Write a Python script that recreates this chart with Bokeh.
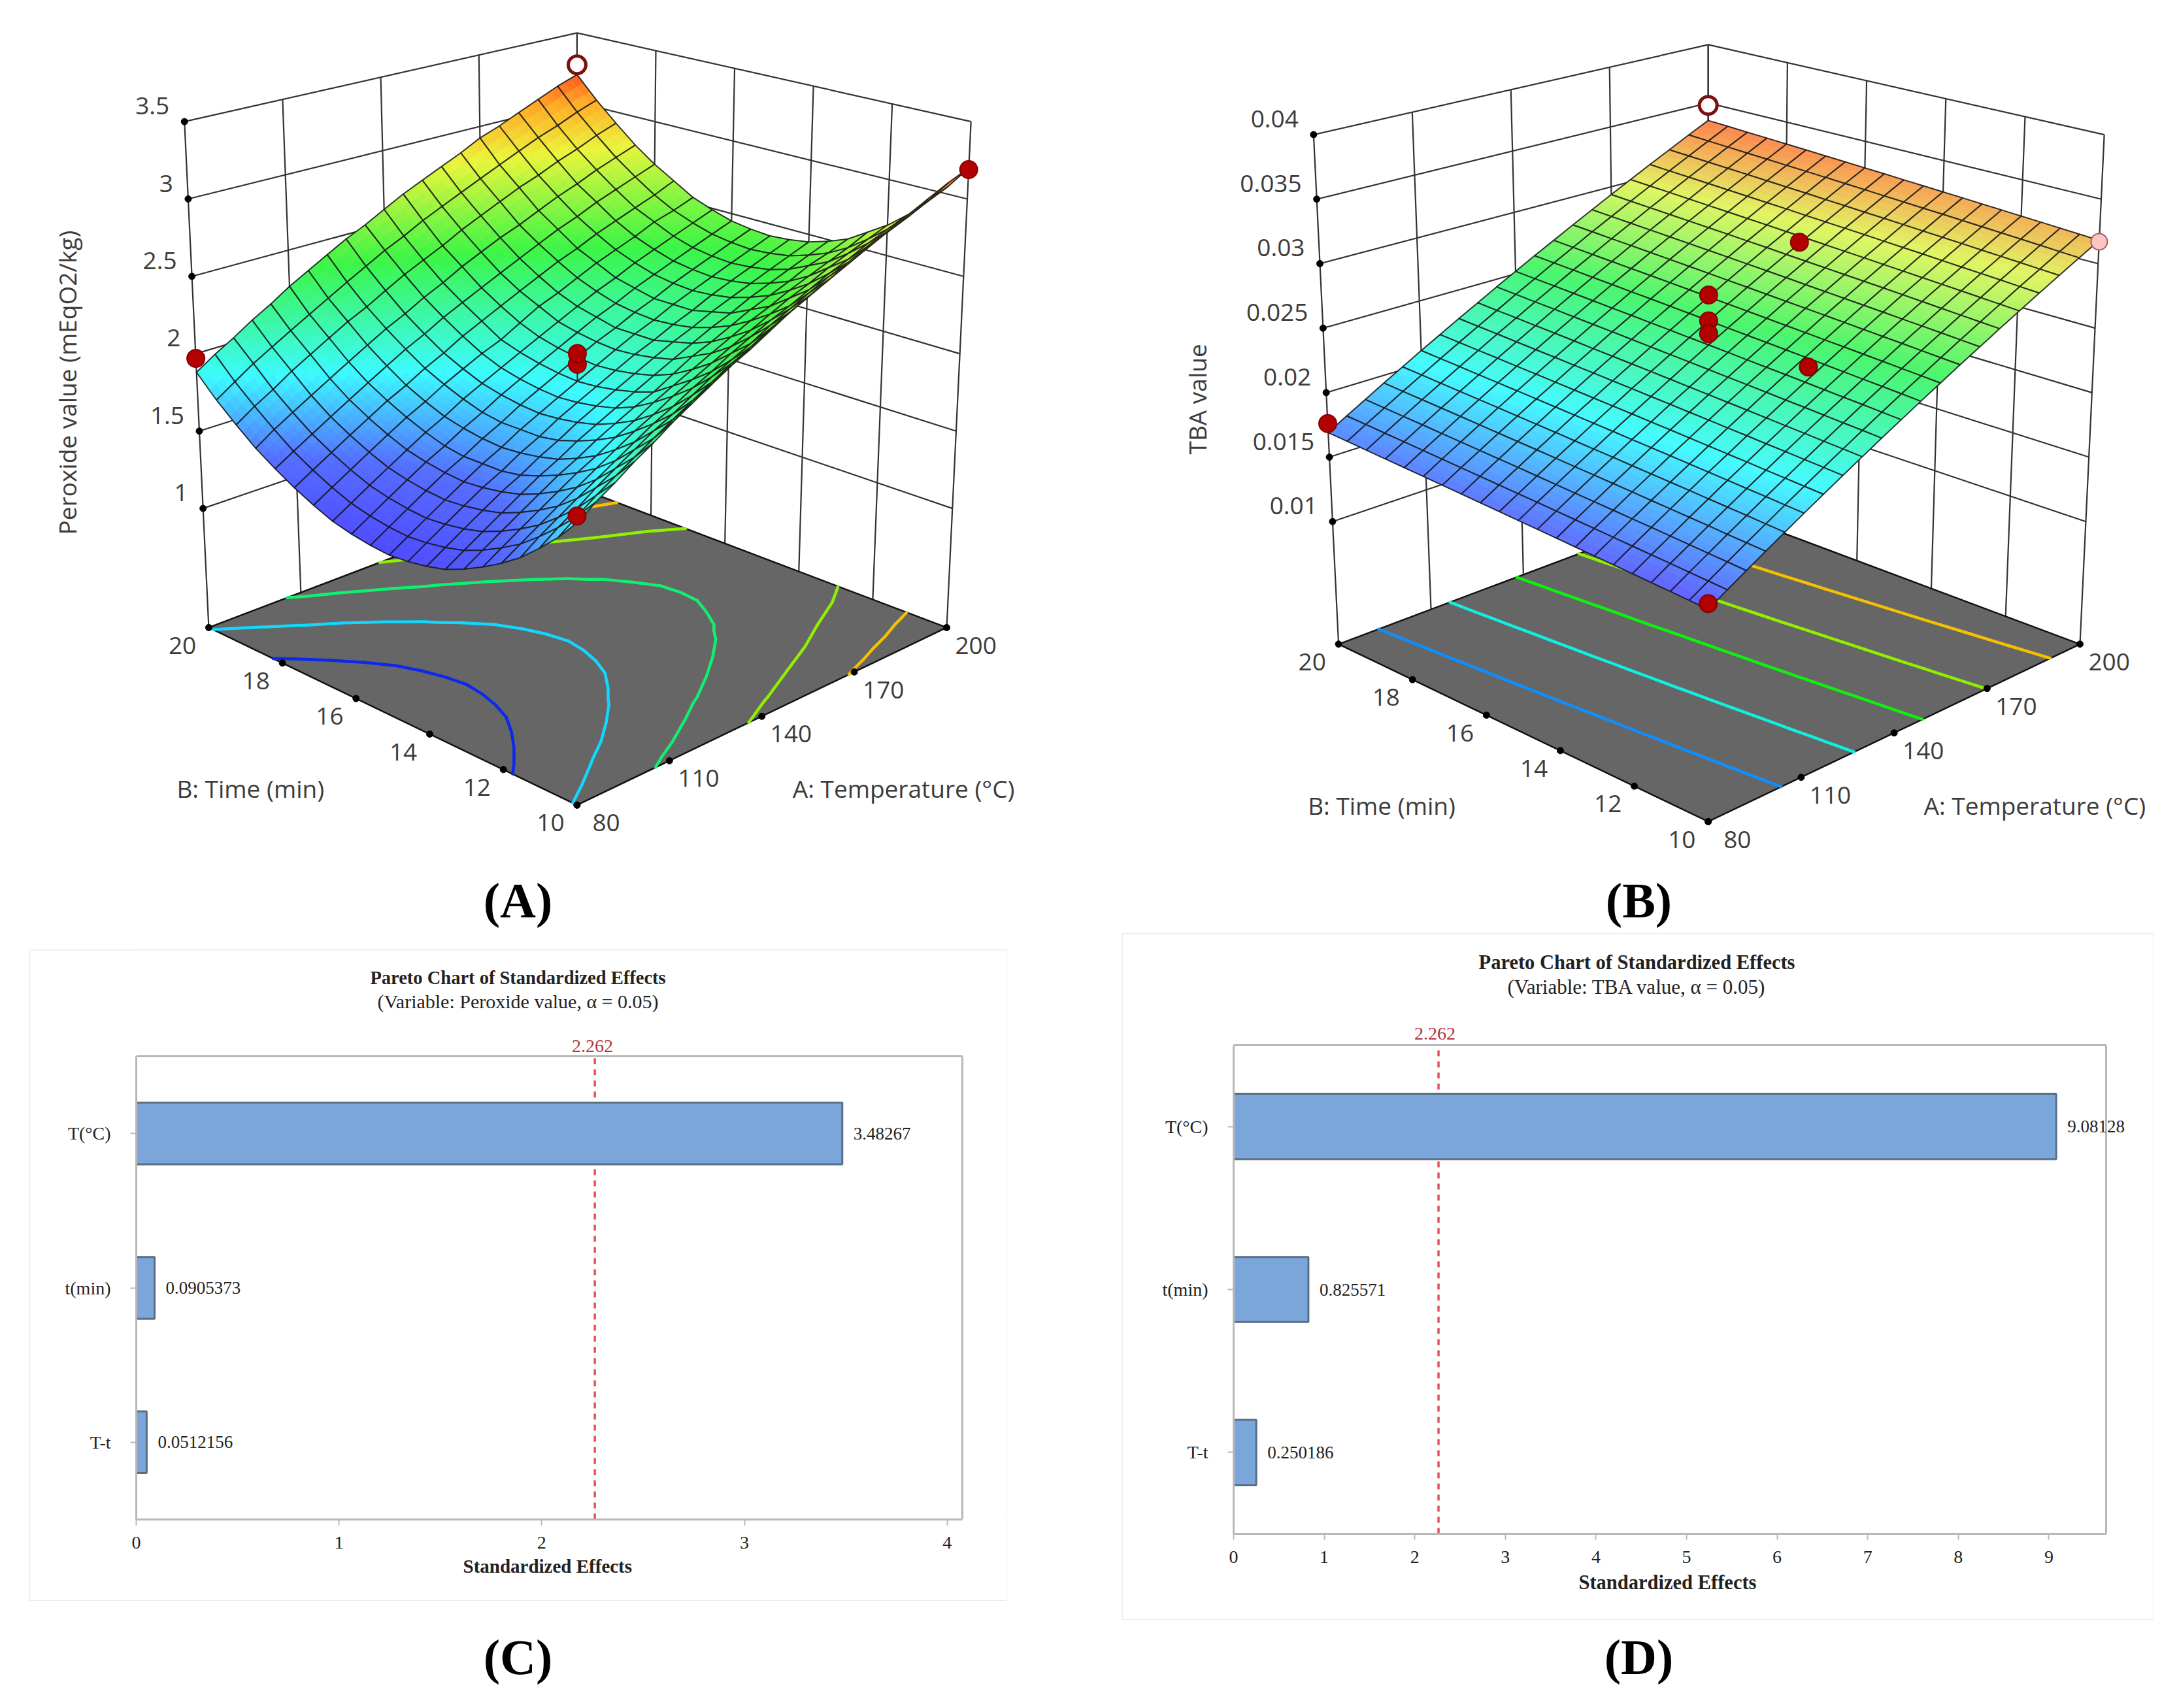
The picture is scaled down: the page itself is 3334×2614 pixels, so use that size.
import numpy as np
from bokeh.core.properties import value
from bokeh.embed import file_html
from bokeh.layouts import column, row
from bokeh.models import ColumnDataSource, FixedTicker, Range1d, Title
from bokeh.plotting import figure
from bokeh.resources import INLINE

# ---------------- data ----------------
TEMP_TICKS = [80, 110, 140, 170, 200]
TIME_TICKS = [10, 12, 14, 16, 18, 20]
PEROXIDE_TICKS = [1, 1.5, 2, 2.5, 3, 3.5]
TBA_TICKS = [0.01, 0.015, 0.02, 0.025, 0.03, 0.035, 0.04]

# rows: temperature 80..200 in 21 steps, columns: time 10..20 in 21 steps
PEROXIDE_GRID = [
[1.88,1.75,1.64,1.54,1.46,1.39,1.33,1.28,1.25,1.23,1.22,1.23,1.25,1.28,1.33,1.39,1.46,1.54,1.64,1.75,1.88],
[1.96,1.83,1.72,1.62,1.53,1.46,1.40,1.35,1.32,1.30,1.29,1.30,1.32,1.35,1.40,1.46,1.53,1.62,1.72,1.83,1.96],
[2.03,1.91,1.79,1.69,1.60,1.53,1.47,1.42,1.39,1.37,1.36,1.37,1.39,1.42,1.47,1.53,1.60,1.69,1.79,1.91,2.03],
[2.11,1.98,1.87,1.76,1.67,1.60,1.54,1.49,1.46,1.44,1.43,1.44,1.46,1.49,1.54,1.60,1.67,1.76,1.87,1.98,2.11],
[2.18,2.05,1.94,1.83,1.74,1.67,1.61,1.56,1.53,1.51,1.50,1.51,1.53,1.56,1.61,1.67,1.74,1.83,1.94,2.05,2.18],
[2.26,2.12,2.01,1.90,1.81,1.74,1.68,1.63,1.59,1.57,1.57,1.57,1.59,1.63,1.68,1.74,1.81,1.90,2.01,2.12,2.26],
[2.33,2.19,2.08,1.97,1.88,1.80,1.74,1.69,1.66,1.64,1.63,1.64,1.66,1.69,1.74,1.80,1.88,1.97,2.08,2.19,2.33],
[2.40,2.26,2.14,2.04,1.95,1.87,1.81,1.76,1.72,1.70,1.70,1.70,1.72,1.76,1.81,1.87,1.95,2.04,2.14,2.26,2.40],
[2.47,2.33,2.21,2.10,2.01,1.93,1.87,1.82,1.79,1.77,1.76,1.77,1.79,1.82,1.87,1.93,2.01,2.10,2.21,2.33,2.47],
[2.53,2.40,2.28,2.17,2.08,2.00,1.93,1.88,1.85,1.83,1.82,1.83,1.85,1.88,1.93,2.00,2.08,2.17,2.28,2.40,2.53],
[2.60,2.46,2.34,2.23,2.14,2.06,1.98,1.94,1.91,1.89,1.88,1.89,1.91,1.94,1.98,2.06,2.14,2.23,2.34,2.46,2.60],
[2.67,2.53,2.40,2.30,2.20,2.12,2.05,2.00,1.97,1.95,1.94,1.95,1.97,2.00,2.05,2.12,2.20,2.30,2.40,2.53,2.67],
[2.73,2.59,2.47,2.36,2.26,2.18,2.12,2.06,2.03,2.01,2.00,2.01,2.03,2.06,2.12,2.18,2.26,2.36,2.47,2.59,2.73],
[2.79,2.65,2.53,2.42,2.32,2.24,2.17,2.12,2.09,2.06,2.06,2.06,2.09,2.12,2.17,2.24,2.32,2.42,2.53,2.65,2.79],
[2.85,2.71,2.59,2.47,2.38,2.30,2.23,2.18,2.14,2.12,2.11,2.12,2.14,2.18,2.23,2.30,2.38,2.47,2.59,2.71,2.85],
[2.92,2.77,2.65,2.53,2.44,2.35,2.29,2.23,2.20,2.17,2.17,2.17,2.20,2.23,2.29,2.35,2.44,2.53,2.65,2.77,2.92],
[2.97,2.83,2.70,2.59,2.49,2.41,2.34,2.29,2.25,2.23,2.22,2.23,2.25,2.29,2.34,2.41,2.49,2.59,2.70,2.83,2.97],
[3.03,2.89,2.76,2.64,2.55,2.46,2.39,2.34,2.30,2.28,2.27,2.28,2.30,2.34,2.39,2.46,2.55,2.64,2.76,2.89,3.03],
[3.09,2.94,2.81,2.70,2.60,2.51,2.45,2.39,2.35,2.33,2.32,2.33,2.35,2.39,2.45,2.51,2.60,2.70,2.81,2.94,3.09],
[3.15,3.00,2.87,2.75,2.65,2.56,2.49,2.44,2.40,2.38,2.37,2.38,2.40,2.44,2.49,2.56,2.65,2.75,2.87,3.00,3.15],
[3.20,3.05,2.92,2.80,2.70,2.62,2.54,2.49,2.45,2.43,2.42,2.43,2.45,2.49,2.54,2.62,2.70,2.80,2.92,3.05,3.20],
]

# TBA value in units of 0.001, same layout
TBA_GRID_MILLI = [
[15.50,15.57,15.64,15.71,15.78,15.85,15.92,15.99,16.06,16.13,16.20,16.27,16.34,16.41,16.48,16.55,16.62,16.69,16.76,16.83,16.90],
[16.32,16.39,16.46,16.53,16.60,16.67,16.74,16.82,16.89,16.96,17.03,17.10,17.17,17.24,17.31,17.38,17.45,17.52,17.59,17.67,17.74],
[17.13,17.20,17.27,17.34,17.42,17.49,17.56,17.63,17.70,17.77,17.85,17.92,17.99,18.06,18.13,18.20,18.27,18.35,18.42,18.49,18.56],
[17.95,18.02,18.09,18.17,18.24,18.31,18.38,18.46,18.53,18.60,18.67,18.75,18.82,18.89,18.96,19.03,19.11,19.18,19.25,19.32,19.40],
[18.76,18.83,18.91,18.98,19.05,19.13,19.20,19.27,19.34,19.42,19.49,19.56,19.64,19.71,19.78,19.86,19.93,20.00,20.07,20.15,20.22],
[19.58,19.65,19.73,19.80,19.88,19.95,20.02,20.10,20.17,20.24,20.32,20.39,20.47,20.54,20.61,20.69,20.76,20.83,20.91,20.98,21.06],
[20.39,20.46,20.54,20.61,20.69,20.76,20.84,20.91,20.99,21.06,21.14,21.21,21.28,21.36,21.43,21.51,21.58,21.66,21.73,21.81,21.88],
[21.21,21.29,21.36,21.44,21.51,21.59,21.66,21.74,21.81,21.89,21.96,22.04,22.11,22.19,22.26,22.34,22.41,22.49,22.57,22.64,22.72],
[22.02,22.10,22.17,22.25,22.32,22.40,22.48,22.55,22.63,22.70,22.78,22.86,22.93,23.01,23.08,23.16,23.24,23.31,23.39,23.46,23.54],
[22.84,22.92,22.99,23.07,23.15,23.22,23.30,23.38,23.45,23.53,23.61,23.68,23.76,23.84,23.92,23.99,24.07,24.15,24.22,24.30,24.38],
[23.65,23.73,23.81,23.88,23.96,24.04,24.12,24.19,24.27,24.35,24.43,24.50,24.58,24.66,24.74,24.81,24.89,24.97,25.05,25.12,25.20],
[24.47,24.55,24.63,24.70,24.78,24.86,24.94,25.02,25.10,25.17,25.25,25.33,25.41,25.49,25.57,25.64,25.72,25.80,25.88,25.96,26.04],
[25.28,25.36,25.44,25.52,25.60,25.68,25.75,25.83,25.91,25.99,26.07,26.15,26.23,26.31,26.39,26.47,26.54,26.62,26.70,26.78,26.86],
[26.10,26.18,26.26,26.34,26.42,26.50,26.58,26.66,26.74,26.82,26.90,26.98,27.06,27.14,27.22,27.30,27.38,27.46,27.54,27.62,27.70],
[26.91,26.99,27.07,27.15,27.23,27.31,27.39,27.47,27.55,27.63,27.72,27.80,27.88,27.96,28.04,28.12,28.20,28.28,28.36,28.44,28.52],
[27.73,27.81,27.89,27.97,28.06,28.14,28.22,28.30,28.38,28.46,28.54,28.62,28.71,28.79,28.87,28.95,29.03,29.11,29.19,29.27,29.36],
[28.54,28.62,28.70,28.79,28.87,28.95,29.03,29.11,29.20,29.28,29.36,29.44,29.52,29.61,29.69,29.77,29.85,29.93,30.02,30.10,30.18],
[29.36,29.44,29.53,29.61,29.69,29.77,29.86,29.94,30.02,30.11,30.19,30.27,30.35,30.44,30.52,30.60,30.68,30.77,30.85,30.93,31.02],
[30.17,30.25,30.34,30.42,30.50,30.59,30.67,30.75,30.84,30.92,31.00,31.09,31.17,31.26,31.34,31.42,31.51,31.59,31.67,31.76,31.84],
[30.99,31.07,31.16,31.24,31.33,31.41,31.50,31.58,31.66,31.75,31.83,31.92,32.00,32.09,32.17,32.25,32.34,32.42,32.51,32.59,32.68],
[31.80,31.89,31.97,32.06,32.14,32.23,32.31,32.40,32.48,32.57,32.65,32.74,32.82,32.91,32.99,33.08,33.16,33.25,33.33,33.42,33.50],
]

PEROXIDE_POINT_T = [80, 80, 200, 140, 140]
PEROXIDE_POINT_TIME = [20, 10, 10, 15, 15]
PEROXIDE_POINT_Z = [1.97, 1.92, 3.19, 1.99, 2.06]
PEROXIDE_OPEN = (200, 20, 3.27)
TBA_POINT_T = [80, 80, 168, 140, 140, 140, 141]
TBA_POINT_TIME = [20, 10, 15, 15, 15, 15, 12.5]
TBA_POINT_Z = [0.0176, 0.0159, 0.0302, 0.0283, 0.0263, 0.0253, 0.0251]
TBA_PINK = (200, 10, 0.0317)
TBA_OPEN = (200, 20, 0.0348)

PEROXIDE_LEVELS = [1.5, 1.85, 2.2, 2.55, 2.9]
TBA_LEVELS = [0.0187, 0.0219, 0.0249, 0.0277, 0.0305]

CATEGORIES = ["T-t", "t(min)", "T(°C)"]
EFFECTS_C = [0.0512156, 0.0905373, 3.48267]
EFFECTS_D = [0.250186, 0.825571, 9.08128]
CRITICAL = 2.262

# ---------------- styling / layout ----------------
KX, KY = 1667 / 1568, 1420 / 1568
INK = "#3c3c3c"
SANS = "Open Sans"
SERIF = "Liberation Serif"
TOP_H = 1426
LEFT_W = 1667
RIGHT_W = 1659
PARETO_H = 1054
CAPTION_H = 126


def ramp(z, stops):
    zs = [s[0] for s in stops]
    return "#%02x%02x%02x" % tuple(int(round(np.interp(z, zs, [s[1][k] for s in stops]))) for k in range(3))


def contour_segments(grid, level):
    n, m = grid.shape
    level = level + 1e-7
    segs = []
    for i in range(n - 1):
        for j in range(m - 1):
            c = [(i, j, grid[i, j]), (i + 1, j, grid[i + 1, j]), (i + 1, j + 1, grid[i + 1, j + 1]), (i, j + 1, grid[i, j + 1])]
            pts = []
            for k in range(4):
                a, b = c[k], c[(k + 1) % 4]
                if (a[2] - level) * (b[2] - level) < 0:
                    f = (level - a[2]) / (b[2] - a[2])
                    pts.append((a[0] + f * (b[0] - a[0]), a[1] + f * (b[1] - a[1])))
            if len(pts) == 2:
                segs.append(pts)
            elif len(pts) == 4:
                segs.append(pts[:2]); segs.append(pts[2:])
    return segs


def panel3d(cfg):
    grid = cfg["grid"]
    zf, zt = cfg["zfloor"], cfg["ztop"]
    box = cfg["box"]  # view of the axis cube: keys are (T end, time end, z end)

    def proj(T, t, z):
        T, t, z = np.asarray(T, float), np.asarray(t, float), np.asarray(z, float)
        u, v, w = (T - 80) / 120, (t - 10) / 10, (z - zf) / (zt - zf)
        sx, sy = 0.0, 0.0
        for (a, b, c), (px, py) in box.items():
            f = (u if a else 1 - u) * (v if b else 1 - v) * (w if c else 1 - w)
            sx = sx + f * px
            sy = sy + f * py
        return sx * KX, sy * KY

    W = cfg["width"]
    p = figure(width=W, height=TOP_H, x_range=Range1d(0, W), y_range=Range1d(TOP_H, 0),
               output_backend="svg", toolbar_location=None, min_border=0, outline_line_color=None)
    p.axis.visible = False
    p.grid.visible = False

    def seg(T0, t0, z0, T1, t1, z1):
        x, y = proj([T0, T1], [t0, t1], [z0, z1])
        return list(x), list(y)

    # walls
    xs, ys = [], []
    for z in cfg["zticks"]:
        a = seg(80, 20, z, 200, 20, z); b = seg(200, 20, z, 200, 10, z)
        xs += [a[0], b[0]]; ys += [a[1], b[1]]
    for T in TEMP_TICKS:
        a = seg(T, 20, zf, T, 20, zt); xs.append(a[0]); ys.append(a[1])
    for t in TIME_TICKS:
        a = seg(200, t, zf, 200, t, zt); xs.append(a[0]); ys.append(a[1])
    p.multi_line(xs, ys, line_color="#333333", line_width=2.2)

    # floor and contours
    cx, cy = proj([80, 200, 200, 80], [10, 10, 20, 20], [zf] * 4)
    p.patch(list(cx), list(cy), fill_color="#666666", line_color="#111111", line_width=2.5)
    temps = np.linspace(80, 200, grid.shape[0])
    times = np.linspace(10, 20, grid.shape[1])
    for level, col in zip(cfg["levels"], cfg["level_colors"]):
        lx, ly = [], []
        for s in contour_segments(grid, level):
            Ts = [80 + s[0][0] * 6, 80 + s[1][0] * 6]
            tt = [10 + s[0][1] * 0.5, 10 + s[1][1] * 0.5]
            x, y = proj(Ts, tt, [zf, zf])
            lx.append(list(x)); ly.append(list(y))
        p.multi_line(lx, ly, line_color=col, line_width=4.5, line_cap="round")

    # tick dots and labels on the floor and the z axis
    fs = "37px"
    dx, dy = proj(TEMP_TICKS, [10] * 5, [zf] * 5)
    p.scatter(dx, dy, size=10, color="black")
    p.text(dx + 42 * KX, dy + 30 * KY, text=[str(v) for v in TEMP_TICKS], text_font=value(SANS), text_font_size=fs,
           text_color=INK, text_align="center", text_baseline="middle")
    dx, dy = proj([80] * 6, TIME_TICKS, [zf] * 6)
    p.scatter(dx, dy, size=10, color="black")
    p.text(dx - 38 * KX, dy + 30 * KY, text=[str(v) for v in TIME_TICKS], text_font=value(SANS), text_font_size=fs,
           text_color=INK, text_align="center", text_baseline="middle")
    nz = len(cfg["zticks"])
    dx, dy = proj([80] * nz, [20] * nz, cfg["zticks"])
    p.scatter(dx, dy, size=10, color="black")
    p.text(dx - 23, dy - 24, text=[("%g" % v) for v in cfg["zticks"]], text_font=value(SANS), text_font_size=fs,
           text_color=INK, text_align="right", text_baseline="middle")

    fx, fy = proj(80, 10, zf)
    lx, ly = proj(80, 20, zf)
    p.text([fx + 470 * KX], [fy - 28 * KY], text=["A: Temperature (°C)"], text_font=value(SANS), text_font_size=fs,
           text_color=INK, text_align="center", text_baseline="middle")
    p.text([fx - 470 * KX], [fy - 28 * KY], text=["B: Time (min)"], text_font=value(SANS), text_font_size=fs,
           text_color=INK, text_align="center", text_baseline="middle")
    p.text([lx - 204 * KX], [ly - 414 * KY], text=[cfg["ylabel"]], angle=np.pi / 2, text_font=value(SANS),
           text_font_size=fs, text_color=INK, text_align="center", text_baseline="middle")

    # surface, far cells first: each mesh cell is shaded in 3x3 facets and then outlined
    sub = 3
    fr = np.linspace(0, 1, sub + 1)
    qx, qy, qf, qfa, ql, qw, qla = [], [], [], [], [], [], []
    for i in range(grid.shape[0] - 2, -1, -1):
        for j in range(grid.shape[1] - 2, -1, -1):
            z00, z10, z11, z01 = grid[i, j], grid[i + 1, j], grid[i + 1, j + 1], grid[i, j + 1]

            def zat(a, b):
                return z00 * (1 - a) * (1 - b) + z10 * a * (1 - b) + z11 * a * b + z01 * (1 - a) * b

            dT, dt = temps[i + 1] - temps[i], times[j + 1] - times[j]
            for ia in range(sub - 1, -1, -1):
                for ib in range(sub - 1, -1, -1):
                    a0, a1, b0, b1 = fr[ia], fr[ia + 1], fr[ib], fr[ib + 1]
                    Ts = [temps[i] + a0 * dT, temps[i] + a1 * dT, temps[i] + a1 * dT, temps[i] + a0 * dT]
                    tt = [times[j] + b0 * dt, times[j] + b0 * dt, times[j] + b1 * dt, times[j] + b1 * dt]
                    zz = [zat(a0, b0), zat(a1, b0), zat(a1, b1), zat(a0, b1)]
                    x, y = proj(Ts, tt, zz)
                    c = ramp(np.mean(zz), cfg["stops"])
                    qx.append(list(x)); qy.append(list(y)); qf.append(c); qfa.append(1.0); ql.append(c); qw.append(1.0); qla.append(1.0)
            x, y = proj([temps[i], temps[i + 1], temps[i + 1], temps[i]], [times[j], times[j], times[j + 1], times[j + 1]], [z00, z10, z11, z01])
            qx.append(list(x)); qy.append(list(y)); qf.append("#000000"); qfa.append(0.0); ql.append("#141414"); qw.append(2.0); qla.append(0.85)
    src = ColumnDataSource(dict(x=qx, y=qy, f=qf, fa=qfa, l=ql, w=qw, la=qla))
    p.patches("x", "y", fill_color="f", fill_alpha="fa", line_color="l", line_width="w", line_alpha="la", source=src)

    # design points
    if cfg.get("stems"):
        sx, sy = [], []
        for T, t, z, zs in cfg["stems"]:
            a = seg(T, t, z, T, t, zs); sx.append(a[0]); sy.append(a[1])
        p.multi_line(sx, sy, line_color="#222222", line_width=2)
    x, y = proj(cfg["pt"], cfg["pt_time"], cfg["pt_z"])
    p.scatter(x, y, size=27, fill_color="#b30000", line_color="#860000", line_width=2)
    if cfg.get("pink"):
        x, y = proj(*cfg["pink"])
        p.scatter([float(x)], [float(y)], size=25, fill_color="#ffc4c4", line_color="#a86060", line_width=2)
    x, y = proj(*cfg["open"])
    p.scatter([float(x)], [float(y)], size=27, fill_color="white", line_color="#7a1010", line_width=5)

    p.text([cfg["cap_x"]], [1377], text=[cfg["cap"]], text_font=value(SERIF), text_font_style="bold",
           text_font_size="76px", text_color="black", text_align="center", text_baseline="middle")
    return p


def pareto(cfg):
    fl, fr, ft, fb = cfg["frame"]
    bl, br, bt, bb = cfg["box"]
    sx = (fr - fl) / cfg["xmax"]
    sy = (fb - ft) / 3
    p = figure(width=br - bl, height=bb - bt, x_range=Range1d(0, (br - fl) / sx), y_range=Range1d(0, (fb - bt) / sy),
               output_backend="svg", toolbar_location=None,
               min_border_left=fl - bl, min_border_right=0, min_border_top=0, min_border_bottom=bb - fb,
               outline_line_color=None,
               margin=(bt - TOP_H, cfg["outer_r"] - br, TOP_H + PARETO_H - bb, bl - cfg["outer_l"]),
               styles={"outline": "3px solid #ececec", "outline-offset": "-2px"})
    p.grid.visible = False

    def X(px):
        return (px - fl) / sx

    def Y(py):
        return (fb - py) / sy

    ypos = [0.5, 1.5, 2.5]
    vals = cfg["vals"]
    xmax = cfg["xmax"]
    p.multi_line([[0, xmax], [xmax, xmax]], [[3, 3], [0, 3]], line_color="#b8b8b8", line_width=3)
    p.segment([CRITICAL], [0], [CRITICAL], [3], line_color="#e8505a", line_width=3.5, line_dash="9 8")
    src = ColumnDataSource(dict(y=ypos, v=vals, t=["%.6g" % v for v in vals]))
    p.hbar(y="y", right="v", left=0, height=0.4, source=src, fill_color="#7ba6d9", line_color="#5a6f85", line_width=3)
    p.text(x="v", y="y", text="t", source=src, x_offset=17, text_font=value(SERIF), text_font_size="27px",
           text_color="#222222", text_baseline="middle")

    ax = p.xaxis[0]
    ax.ticker = FixedTicker(ticks=cfg["xticks"])
    ax.bounds = (0, xmax)
    p.add_layout(Title(text="Standardized Effects", align="left", offset=cfg["xlabel_offset"], standoff=cfg["xlabel_standoff"],
                       text_font=SERIF, text_font_style="bold", text_font_size=cfg["xlabel_size"], text_color="#222222"), "below")
    ay = p.yaxis[0]
    ay.ticker = FixedTicker(ticks=ypos)
    ay.bounds = (0, 3)
    ay.major_label_overrides = {y: c for y, c in zip(ypos, CATEGORIES)}
    for a in (ax, ay):
        a.axis_line_color = "#b8b8b8"
        a.axis_line_width = 3
        a.major_tick_line_color = "#b8b8b8"
        a.major_tick_line_width = 2
        a.major_tick_in = 0
        a.major_tick_out = 9
        a.minor_tick_line_color = None
        a.major_label_text_font = SERIF
        a.major_label_text_font_size = "28px"
        a.major_label_text_color = "#222222"
    ax.major_label_standoff = 17
    ay.major_label_standoff = 30

    def text(px, py, s, size, bold=False, color="#222222"):
        p.text([X(px)], [Y(py)], text=[s], text_font=value(SERIF), text_font_size=size,
               text_font_style="bold" if bold else "normal", text_color=color,
               text_align="center", text_baseline="middle")

    text(cfg["title_x"], cfg["title_y"], "Pareto Chart of Standardized Effects", cfg["title_size"], bold=True)
    text(cfg["title_x"], cfg["sub_y"], cfg["sub"], cfg["sub_size"])
    text(cfg["crit_x"], cfg["crit_y"], f"{CRITICAL:.3f}", "28px", color="#b5333a")
    return p


def caption_strip(labels, xs):
    p = figure(width=LEFT_W + RIGHT_W, height=CAPTION_H, x_range=Range1d(0, LEFT_W + RIGHT_W),
               y_range=Range1d(CAPTION_H, 0), output_backend="svg", toolbar_location=None,
               min_border=0, outline_line_color=None)
    p.axis.visible = False
    p.grid.visible = False
    p.text(xs, [2535 - TOP_H - PARETO_H] * len(xs), text=labels, text_font=value(SERIF), text_font_style="bold",
           text_font_size="76px", text_color="black", text_align="center", text_baseline="middle")
    return p


panel_a = panel3d(dict(
    width=LEFT_W, grid=np.array(PEROXIDE_GRID), zfloor=0.23, ztop=3.5, zticks=PEROXIDE_TICKS,
    box={(0, 0, 0): (830, 1360), (1, 0, 0): (1362, 1060), (0, 1, 0): (300, 1060), (1, 1, 0): (830, 823),
         (0, 0, 1): (830, 415), (1, 0, 1): (1397, 205), (0, 1, 1): (265, 205), (1, 1, 1): (830, 55)},
    levels=PEROXIDE_LEVELS,
    level_colors=["#0a28f0", "#10d8ff", "#10f070", "#90f000", "#f5c000"],
    stops=[(1.22, (80, 75, 255)), (1.5, (85, 110, 255)), (1.85, (60, 250, 255)), (2.35, (60, 245, 70)), (2.8, (235, 245, 60)), (3.05, (255, 170, 40)), (3.2, (255, 85, 30))],
    ylabel="Peroxide value (mEqO2/kg)",
    pt=PEROXIDE_POINT_T, pt_time=PEROXIDE_POINT_TIME, pt_z=PEROXIDE_POINT_Z, open=PEROXIDE_OPEN,
    stems=[(140, 15, 1.99, 1.88)], cap="(A)", cap_x=792))

panel_b = panel3d(dict(
    width=RIGHT_W, grid=np.array(TBA_GRID_MILLI) * 1e-3, zfloor=0.0005, ztop=0.04, zticks=TBA_TICKS,
    box={(0, 0, 0): (890, 1388), (1, 0, 0): (1425, 1088), (0, 1, 0): (358, 1088), (1, 1, 0): (890, 853),
         (0, 0, 1): (890, 443), (1, 0, 1): (1460, 227), (0, 1, 1): (322, 227), (1, 1, 1): (890, 75)},
    levels=TBA_LEVELS,
    level_colors=["#0f8fff", "#10f0e0", "#10f010", "#90f000", "#f5c000"],
    stops=[(0.0155, (100, 95, 255)), (0.0205, (70, 250, 255)), (0.0255, (75, 245, 110)), (0.030, (225, 245, 100)), (0.0335, (255, 130, 80))],
    ylabel="TBA value",
    pt=TBA_POINT_T, pt_time=TBA_POINT_TIME, pt_z=TBA_POINT_Z, open=TBA_OPEN, pink=TBA_PINK,
    cap="(B)", cap_x=840))

panel_c = pareto(dict(
    outer_l=0, outer_r=LEFT_W, frame=(208, 1472, 1616, 2325), xmax=4.075, vals=EFFECTS_C, xticks=[0, 1, 2, 3, 4],
    box=(45, 1539, 1454, 2449), title_x=792, title_y=1496, sub_y=1532, title_size="28.5px", sub_size="30px",
    sub="(Variable: Peroxide value, α = 0.05)", crit_x=906, crit_y=1600,
    xlabel_offset=500, xlabel_standoff=13, xlabel_size="29px"))

panel_d = pareto(dict(
    outer_l=LEFT_W, outer_r=LEFT_W + RIGHT_W, frame=(1887, 3222, 1599, 2347), xmax=9.632, vals=EFFECTS_D,
    xticks=list(range(10)), box=(1717, 3295, 1429, 2478), title_x=2504, title_y=1472, sub_y=1510,
    title_size="30.5px", sub_size="31px",
    sub="(Variable: TBA value, α = 0.05)", crit_x=2195, crit_y=1581,
    xlabel_offset=528, xlabel_standoff=17, xlabel_size="30.5px"))

captions = caption_strip(["(C)", "(D)"], [792, 2507])

page = column(row(panel_a, panel_b), row(column(panel_c), column(panel_d)), captions)
open("out.html", "w").write(file_html(page, INLINE))
